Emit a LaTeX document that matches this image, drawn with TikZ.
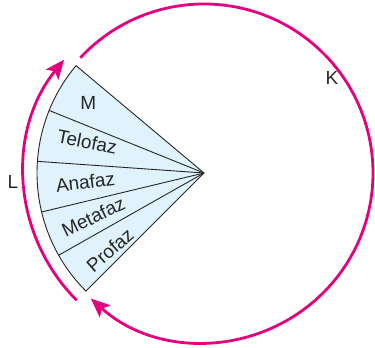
\documentclass[tikz,border=0pt]{standalone}
\usepackage{fontspec}
\setmainfont{Liberation Sans}
\usetikzlibrary{arrows.meta,calc}
\definecolor{cyclepink}{RGB}{230,0,126}
\definecolor{phasefill}{RGB}{224,242,251}
\tikzset{
  pinkarc/.style={draw=cyclepink,line width=2.8pt,-{Stealth[length=19pt,width=16pt,inset=4pt]}},
  phaseline/.style={draw=black!85,line width=0.9pt},
  lbl/.style={font=\fontsize{19}{22}\selectfont,text=black!85,inner sep=0pt},
}
\begin{document}
\begin{tikzpicture}[x=1pt,y=1pt]
\useasboundingbox (0,0) rectangle (375,348);
\coordinate (O) at (204,175);
% sector
\fill[phasefill] (O) -- ++(140:167) arc[start angle=140,end angle=225,radius=167] -- cycle;
\draw[phaseline,line join=miter] (O) -- ++(140:167) coordinate (t) arc[start angle=140,end angle=225,radius=167] coordinate (b) -- cycle;
\foreach \a in {158,176,193.5,209.5}{\draw[phaseline] (O) -- ++(\a:167);}
% labels
\node[lbl] (M) at ($(O)+(148.9:135)$) {M};
\node[lbl,rotate=-11] (telo) at ($(O)+(165:121)$) {Telofaz};
\node[lbl,rotate=7] (ana) at ($(O)+(184.3:119)$) {Anafaz};
\node[lbl,rotate=26] (meta) at ($(O)+(201.6:119)$) {Metafaz};
\node[lbl,rotate=41] (pro) at ($(O)+(219.3:121.5)$) {Profaz};
% arcs
\coordinate (Ls) at ($(O)+(225:180)$);
\coordinate (Ks) at ($(O)+(137:169)$);
\draw[pinkarc] (Ls) arc[start angle=225,end angle=141,radius=180];
\draw[pinkarc] (Ks) arc[start angle=137,end angle=-132,radius=169];
\node[lbl] (L) at (13,166) {L};
\node[lbl] (K) at (332,270) {K};
\end{tikzpicture}
\end{document}
